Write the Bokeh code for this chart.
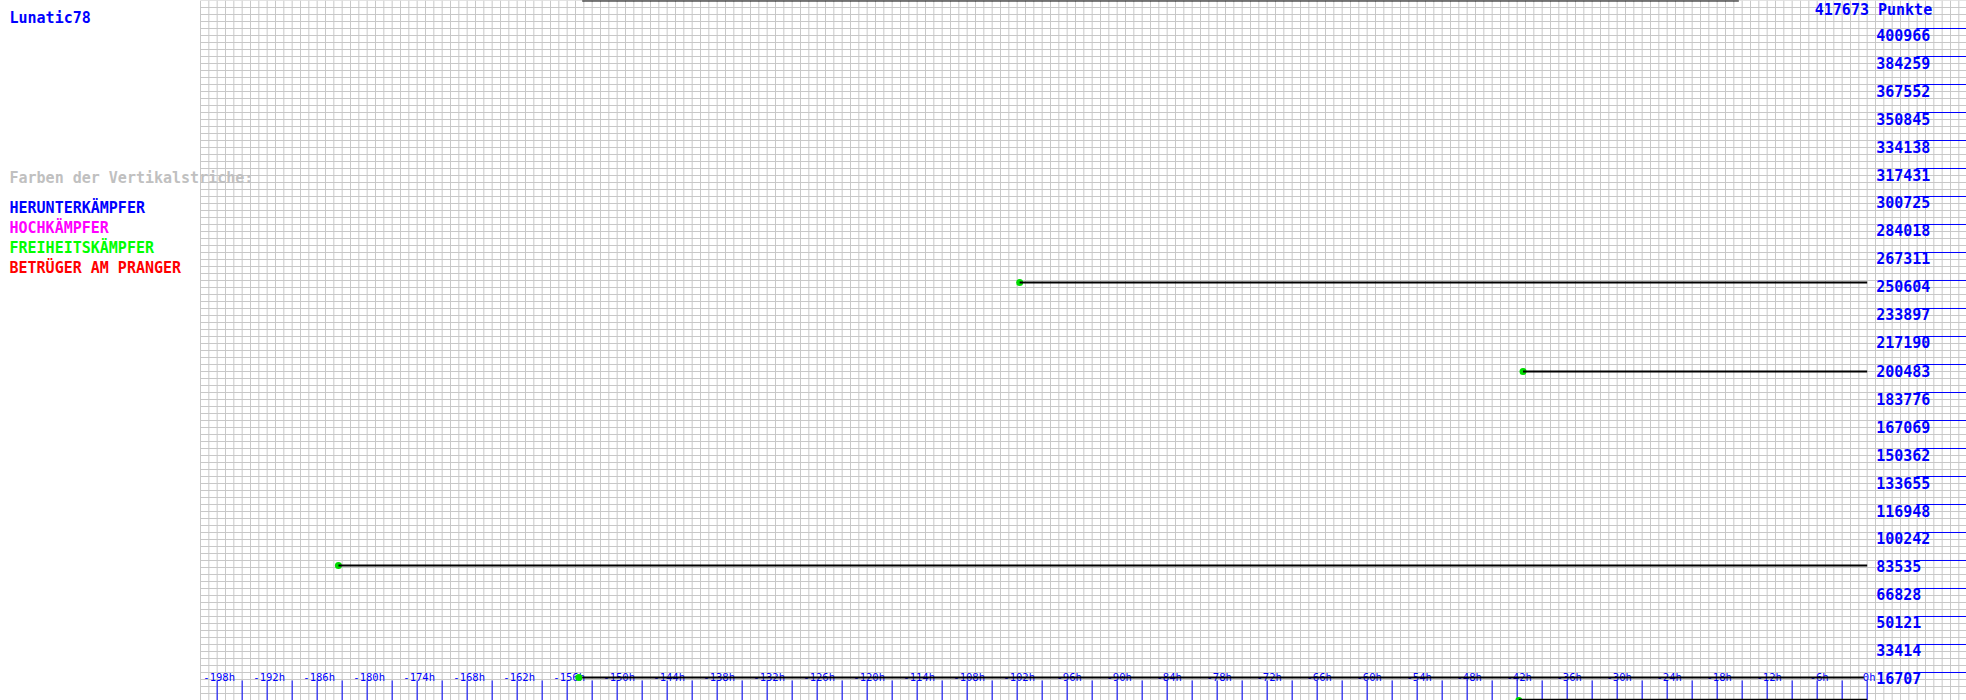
from bokeh.plotting import figure
from bokeh.models import Range1d, Label
from bokeh.core.properties import value
from bokeh.embed import file_html
from bokeh.resources import INLINE

# ---------------- data ----------------
player_name = "Lunatic78"
max_points = 417673
max_label = "417673 Punkte"

# horizontal bars (start hour, end hour, points)
bar_start_h = [-154.2, -154.2, -183.45, -101.7, -41.3, -41.8]
bar_end_h = [-15.4, -0.4, 0.0, 0.0, 0.0, 0.0]
bar_points = [417673, 13724, 80552, 249412, 196308, 400]

# green markers (Freiheitskämpfer)
dot_h = [-154.6, -183.45, -101.7, -41.3, -41.8]
dot_points = [13724, 80552, 249412, 196308, 0]

# y tick labels (right side)
y_ticks = [16707, 33414, 50121, 66828, 83535, 100242, 116948, 133655,
           150362, 167069, 183776, 200483, 217190, 233897, 250604, 267311,
           284018, 300725, 317431, 334138, 350845, 367552, 384259, 400966]

# x tick labels (hours)
x_label_h = [-198, -192, -186, -180, -174, -168, -162, -156, -150, -144,
             -138, -132, -126, -120, -114, -108, -102, -96, -90, -84, -78,
             -72, -66, -60, -54, -48, -42, -36, -30, -24, -18, -12, -6, 0]
x_label_text = [f"{h}h" for h in x_label_h]
x_minor_h = list(range(-198, 1, 3))

legend_title = "Farben der Vertikalstriche:"
legend_items = ["HERUNTERKÄMPFER", "HOCHKÄMPFER", "FREIHEITSKÄMPFER", "BETRÜGER AM PRANGER"]
legend_colors = ["#0000ff", "#ff00ff", "#00ff00", "#ff0000"]

# ---------------- figure ----------------
W, H = 1966, 700
x0, x1 = -224.0, 11.92
p = figure(width=W, height=H, x_range=Range1d(x0, x1), y_range=Range1d(0, max_points),
           output_backend="svg", toolbar_location=None,
           x_axis_location=None, y_axis_location=None, min_border=0)
p.grid.visible = False
p.outline_line_color = None
p.background_fill_color = "white"
p.border_fill_color = "white"

px_per_y = max_points / H  # data units per pixel

# grid
grid_col = "#c8c8c8"
gx = list(range(-200, 13))
p.segment(x0=gx, x1=gx, y0=[0] * len(gx), y1=[max_points] * len(gx),
          line_color=grid_col, line_width=1)
gy = [max_points * k / 100 for k in range(101)]
p.segment(x0=[-200] * len(gy), x1=[x1] * len(gy), y0=gy, y1=gy,
          line_color=grid_col, line_width=1)

mono = value("DejaVu Sans Mono")

# x tick marks and labels
p.segment(x0=x_minor_h, x1=x_minor_h, y0=[0] * len(x_minor_h),
          y1=[20 * px_per_y] * len(x_minor_h), line_color="#0000ff", line_width=1)
p.text(x=x_label_h, y=[24 * px_per_y] * len(x_label_h), text=x_label_text,
       text_font=mono, text_font_size="10.5px", text_color="#0000ff",
       text_align="center", text_baseline="alphabetic", x_offset=2, y_offset=0)

# right-side y ticks and labels
p.segment(x0=[5.9] * len(y_ticks), x1=[x1] * len(y_ticks), y0=y_ticks, y1=y_ticks,
          line_color="#0000ff", line_width=1)
p.text(x=[0] * len(y_ticks), y=y_ticks, text=[str(v) for v in y_ticks],
       text_font=mono, text_font_size="15px", text_font_style="bold",
       text_color="#0000ff", text_align="left", text_baseline="alphabetic",
       x_offset=9, y_offset=6)
p.text(x=[0], y=[max_points], text=[max_label],
       text_font=mono, text_font_size="15px", text_font_style="bold",
       text_color="#0000ff", text_align="right", text_baseline="top",
       x_offset=65, y_offset=0)

# markers then bars
p.scatter(x=dot_h, y=dot_points, size=7, color="#00dd00", line_color=None)
p.segment(x0=bar_start_h, x1=bar_end_h, y0=bar_points, y1=bar_points,
          line_color="black", line_width=2)

# left panel texts
def add_label(txt, x, baseline, color):
    p.add_layout(Label(x=x, y=H - baseline, x_units="screen", y_units="screen",
                       text=txt, text_font="DejaVu Sans Mono", text_font_size="15px",
                       text_font_style="bold", text_color=color,
                       text_align="left", text_baseline="alphabetic"))

add_label(player_name, 9, 17.0, "#0000ff")
add_label(legend_title, 9, 177.0, "#c0c0c0")
for i, (t, c) in enumerate(zip(legend_items, legend_colors)):
    add_label(t, 9, 207.0 + 20 * i, c)

open("out.html", "w").write(file_html(p, INLINE))
